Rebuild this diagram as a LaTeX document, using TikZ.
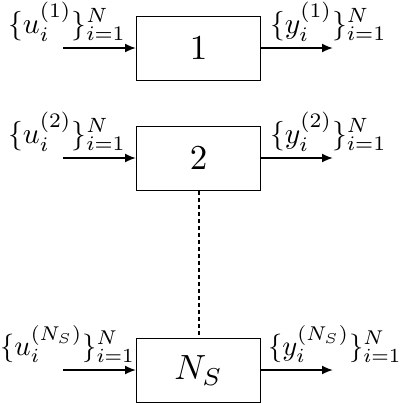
\documentclass[tikz,border=0pt]{standalone}
\usetikzlibrary{arrows.meta}
\newcommand{\bigtxt}[2]{\scalebox{#1}{#2}}
\begin{document}
\begin{tikzpicture}[x=1pt,y=-1pt,
  blk/.style={draw,line width=1pt,minimum width=124pt,minimum height=64pt,inner sep=0pt,anchor=north west},
  sig/.style={-{Latex[length=11pt,width=9pt]},line width=1.8pt},
  lbl/.style={inner sep=0pt}]
\useasboundingbox (0,0) rectangle (404,402);
\node[blk] (b1) at (136,16) {\bigtxt{3.5}{$1$}};
\node[blk] (b2) at (136,126) {\bigtxt{3.5}{$2$}};
\node[blk] (b3) at (136,338) {\bigtxt{3.5}{$N_S$}};
\draw[line width=2pt,dash pattern=on 4pt off 3pt] (b2.south) -- (b3.north);
% inputs/outputs
\coordinate (i1) at (63,48);
\coordinate (o1) at (333,48);
\coordinate (i2) at (63,158);
\coordinate (o2) at (333,158);
\coordinate (i3) at (63,370);
\coordinate (o3) at (333,370);
\draw[sig] (i1) -- (i1 -| b1.west);
\draw[sig] (b1.east |- o1) -- (o1);
\draw[sig] (i2) -- (i2 -| b2.west);
\draw[sig] (b2.east |- o2) -- (o2);
\draw[sig] (i3) -- (i3 -| b3.west);
\draw[sig] (b3.east |- o3) -- (o3);
\node[lbl,anchor=base west] (l1) at (8,33) {\bigtxt{2.95}{$\{u_i^{(1)}\}_{i=1}^N$}};
\node[lbl,anchor=base west] (r1) at (270,33) {\bigtxt{2.95}{$\{y_i^{(1)}\}_{i=1}^N$}};
\node[lbl,anchor=base west] (l2) at (8,143) {\bigtxt{2.95}{$\{u_i^{(2)}\}_{i=1}^N$}};
\node[lbl,anchor=base west] (r2) at (270,143) {\bigtxt{2.95}{$\{y_i^{(2)}\}_{i=1}^N$}};
\node[lbl,anchor=base west] (l3) at (0,355) {\bigtxt{2.85}{$\{u_i^{(N_S)}\}_{i=1}^N$}};
\node[lbl,anchor=base west] (r3) at (268,355) {\bigtxt{2.85}{$\{y_i^{(N_S)}\}_{i=1}^N$}};
\end{tikzpicture}
\end{document}
